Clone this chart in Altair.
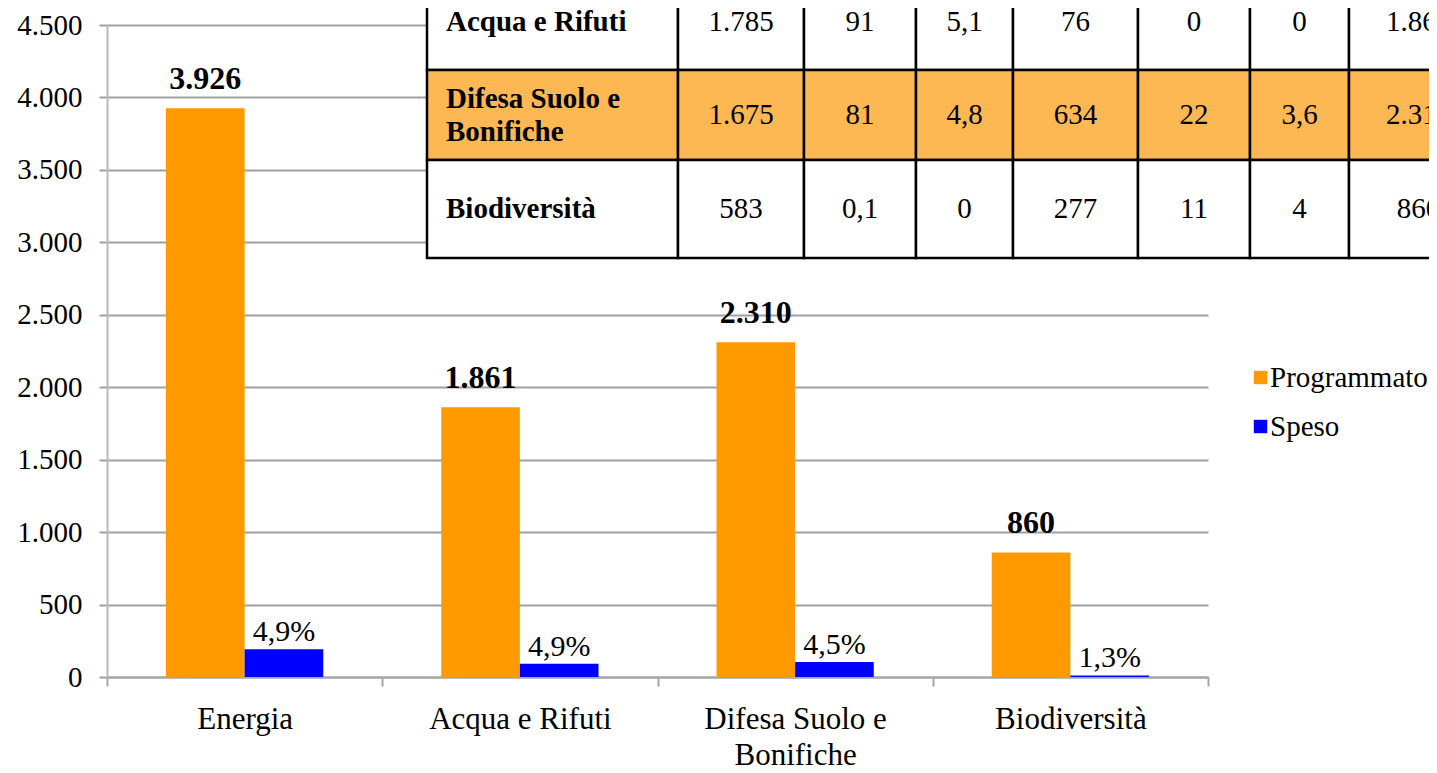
import altair as alt
import pandas as pd

# ---------------- data ----------------
CATEGORIES = ["Energia", "Acqua e Rifuti", "Difesa Suolo e Bonifiche", "Biodiversità"]
SERIES = ["Programmato", "Speso"]
PROGRAMMATO = [3926, 1861, 2310, 860]
SPESO = [192, 91, 103, 11]
Y_TICKS = [0, 500, 1000, 1500, 2000, 2500, 3000, 3500, 4000, 4500]

TABLE_ROWS = ["Acqua e Rifuti", "Difesa Suolo e\nBonifiche", "Biodiversità"]
TABLE_ACQUA = ["1.785", "91", "5,1", "76", "0", "0", "1.861"]
TABLE_DIFESA = ["1.675", "81", "4,8", "634", "22", "3,6", "2.310"]
TABLE_BIO = ["583", "0,1", "0", "277", "11", "4", "860"]

# ---------------- style / layout ----------------
ORANGE = "#FF9900"
BLUE = "#0000FF"
HIGHLIGHT = "#FDB853"
GRID = "#A0A0A0"
FONT = "Liberation Serif"

PLOT_W, PLOT_H = 1101, 652
PAD_L, PAD_T = 99, 17
TOTAL_W, TOTAL_H = 1421, 757

TABLE_X0 = 320
TABLE_COL_W = [251, 126, 112, 97, 125, 112, 99, 139]
TABLE_Y0 = -51
TABLE_ROW_H = [96, 90, 98]
TABLE_TEXT_INSET = 19
TABLE_LINE_H = 33


def it_num(v):
    return f"{v:,}".replace(",", ".")


def it_pct(v):
    return f"{v:.1f}".replace(".", ",") + "%"


rows = []
for c, p, s in zip(CATEGORIES, PROGRAMMATO, SPESO):
    rows.append({"category": c, "series": "Programmato", "value": p, "label": it_num(p)})
    rows.append({"category": c, "series": "Speso", "value": s, "label": it_pct(s / p * 100)})
bars_df = pd.DataFrame(rows)

x_enc = alt.X(
    "category:N",
    sort=CATEGORIES,
    scale=alt.Scale(paddingInner=0, paddingOuter=0),
    axis=alt.Axis(
        title=None, labelAngle=0, tickBand="extent", grid=False,
        domainColor="#A6A6A6", domainWidth=2, tickColor="#A6A6A6", tickWidth=2, tickSize=9,
        labelFont=FONT, labelFontSize=31, labelColor="black", labelPadding=18,
        labelLineHeight=36, labelLimit=400,
        labelExpr="datum.value == 'Difesa Suolo e Bonifiche' ? ['Difesa Suolo e', 'Bonifiche'] : datum.label",
    ),
)
xoff_enc = alt.XOffset(
    "series:N", sort=SERIES,
    scale=alt.Scale(domain=SERIES, paddingInner=0, paddingOuter=0.75),
)
y_enc = alt.Y(
    "value:Q",
    scale=alt.Scale(domain=[0, 4500], nice=False, zero=True),
    axis=alt.Axis(
        title=None, values=Y_TICKS,
        labelExpr="replace(format(datum.value, ','), ',', '.')",
        grid=True, gridColor=GRID, gridWidth=2,
        domainColor="#B8B8B8", domainWidth=2, tickColor=GRID, tickWidth=2, tickSize=8,
        labelFont=FONT, labelFontSize=29, labelColor="black", labelPadding=17,
    ),
)
color_enc = alt.Color(
    "series:N",
    scale=alt.Scale(domain=SERIES, range=[ORANGE, BLUE]),
    legend=alt.Legend(
        title=None, orient="none", legendX=1139, legendY=338,
        symbolType="square", symbolSize=180, symbolStrokeWidth=0,
        labelFont=FONT, labelFontSize=29, labelColor="black", labelLimit=400,
        rowPadding=19, labelOffset={"expr": "-5"}, padding=0,
    ),
)

base = alt.Chart(bars_df)
bars = base.mark_bar().encode(x=x_enc, xOffset=xoff_enc, y=y_enc, color=color_enc)
val_text = base.transform_filter(alt.datum.series == "Programmato").mark_text(
    font=FONT, fontSize=32, fontWeight="bold", baseline="alphabetic", dy=-19, color="black"
).encode(x=x_enc, xOffset=xoff_enc, y=y_enc, text="label:N")
pct_text = base.transform_filter(alt.datum.series == "Speso").mark_text(
    font=FONT, fontSize=30, baseline="alphabetic", dy=-8, color="black"
).encode(x=x_enc, xOffset=xoff_enc, y=y_enc, text="label:N")

# ---------------- table overlay ----------------
cells = []
y = TABLE_Y0
for ri, (name, vals) in enumerate(zip(TABLE_ROWS, [TABLE_ACQUA, TABLE_DIFESA, TABLE_BIO])):
    h = TABLE_ROW_H[ri]
    x = TABLE_X0
    for ci, (w, t) in enumerate(zip(TABLE_COL_W, [name] + vals)):
        nlines = t.count("\n") + 1
        cells.append({
            "row": ri, "col": ci, "x0": x, "x1": x + w, "y0": y, "y1": y + h,
            "tx": x + TABLE_TEXT_INSET if ci == 0 else x + w / 2,
            "ty": y + h / 2 - (nlines - 1) * TABLE_LINE_H / 2,
            "text": t, "hl": ri == 1,
        })
        x += w
    y += h
cells_df = pd.DataFrame(cells)

tbl = alt.Chart(cells_df)
rects = tbl.mark_rect(stroke="black", strokeWidth=2.5).encode(
    x=alt.X("x0:Q", scale=None, axis=None), x2="x1:Q",
    y=alt.Y("y0:Q", scale=None, axis=None), y2="y1:Q",
    fill=alt.condition("datum.hl", alt.value(HIGHLIGHT), alt.value("white")),
)
row_labels = tbl.transform_filter("datum.col == 0").mark_text(
    font=FONT, fontSize=29, fontWeight="bold", align="left", baseline="middle",
    lineBreak="\n", lineHeight=TABLE_LINE_H, color="black",
).encode(x=alt.X("tx:Q", scale=None, axis=None), y=alt.Y("ty:Q", scale=None, axis=None), text="text:N")
nums = tbl.transform_filter("datum.col > 0").mark_text(
    font=FONT, fontSize=29, align="center", baseline="middle", color="black",
).encode(x=alt.X("tx:Q", scale=None, axis=None), y=alt.Y("ty:Q", scale=None, axis=None), text="text:N")

chart = alt.layer(
    alt.layer(bars, val_text, pct_text),
    alt.layer(rects, row_labels, nums),
).resolve_scale(x="independent", y="independent").properties(
    width=PLOT_W, height=PLOT_H,
    autosize=alt.AutoSizeParams(type="none"),
    padding={"left": PAD_L, "top": PAD_T, "right": TOTAL_W - PAD_L - PLOT_W,
             "bottom": TOTAL_H - PAD_T - PLOT_H},
).configure_view(stroke=None)

chart.save("out.html", embed_options={"renderer": "svg", "actions": False})
